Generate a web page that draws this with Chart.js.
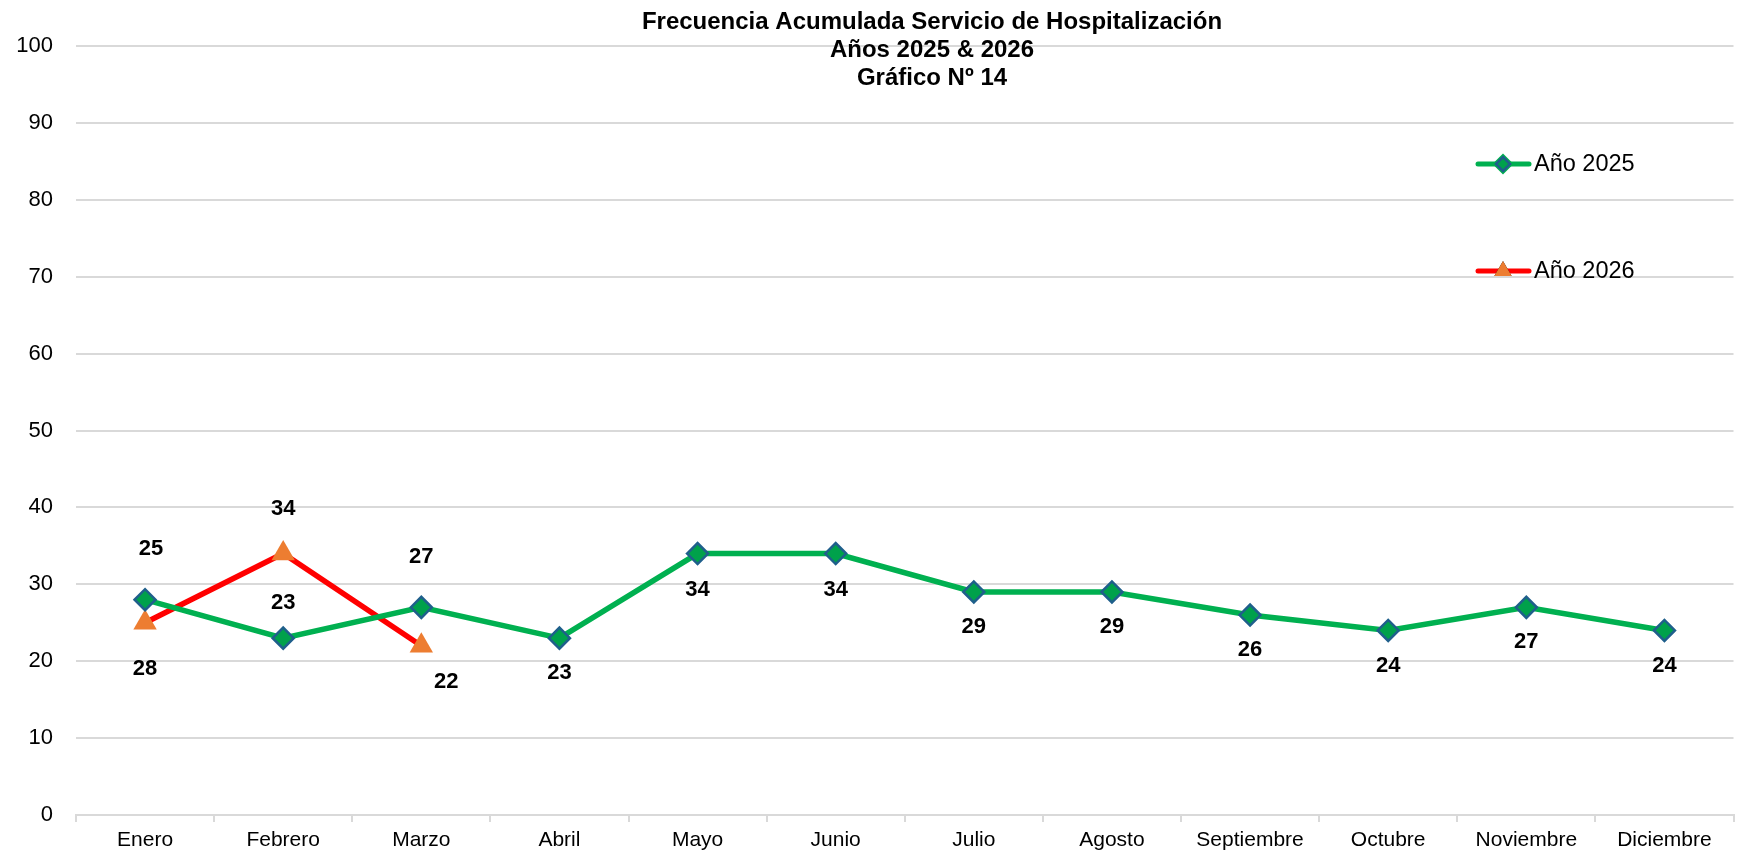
<!DOCTYPE html>
<html>
<head>
<meta charset="utf-8">
<title>Frecuencia Acumulada Servicio de Hospitalización</title>
<script src="https://cdn.jsdelivr.net/npm/chart.js@4/dist/chart.umd.min.js"></script>
<style>
  html, body { margin: 0; padding: 0; background: #fff; }
  #wrap { width: 1747px; height: 852px; }
</style>
</head>
<body>
<div id="wrap"><canvas id="chart" width="1747" height="852"></canvas></div>
<script>
const meses = ['Enero', 'Febrero', 'Marzo', 'Abril', 'Mayo', 'Junio', 'Julio',
  'Agosto', 'Septiembre', 'Octubre', 'Noviembre', 'Diciembre'];
const anio2025 = [28, 23, 27, 23, 34, 34, 29, 29, 26, 24, 27, 24];
const anio2026 = [25, 34, 22];
const tituloLineas = ['Frecuencia Acumulada Servicio de Hospitalización', 'Años 2025 & 2026', 'Gráfico Nº 14'];

const FONT = '"Liberation Sans", Arial, sans-serif';

// label offsets (px) from each point, like the Excel labels
const offs2025 = [[0, 69], [0, -35], [0, -50], [0, 35], [0, 36], [0, 36], [0, 35], [0, 35], [0, 35], [0, 35], [0, 35], [0, 35]];
const offs2026 = [[6, -74], [0, -45], [25, 36]];

const extras = {
  id: 'extras',
  afterDatasetsDraw(chart) {
    const ctx = chart.ctx;
    ctx.save();
    // data labels
    ctx.font = 'bold 22px ' + FONT;
    ctx.fillStyle = '#000';
    ctx.textAlign = 'center';
    ctx.textBaseline = 'middle';
    [offs2025, offs2026].forEach((offs, di) => {
      chart.getDatasetMeta(di).data.forEach((pt, i) => {
        const v = chart.data.datasets[di].data[i];
        ctx.fillText(String(v), pt.x + offs[i][0], pt.y + offs[i][1]);
      });
    });

    // title
    ctx.font = 'bold 24px ' + FONT;
    ctx.textBaseline = 'alphabetic';
    tituloLineas.forEach((t, i) => ctx.fillText(t, 932, 29 + i * 28));

    // legend
    const ys = [164, 271];
    chart.data.datasets.forEach((ds, i) => {
      const y = ys[i];
      ctx.strokeStyle = ds.borderColor;
      ctx.lineWidth = 5;
      ctx.lineCap = 'round';
      ctx.beginPath();
      ctx.moveTo(1478, y);
      ctx.lineTo(1529, y);
      ctx.stroke();
      Chart.helpers.drawPoint(ctx, {
        pointStyle: ds.pointStyle,
        radius: ds.pointStyle === 'triangle' ? 10 : 7,
        borderWidth: ds.pointBorderWidth
      }, 1503, y);
      ctx.fillStyle = ds.pointBackgroundColor;
      ctx.strokeStyle = ds.pointBorderColor;
      ctx.lineWidth = ds.pointBorderWidth;
      ctx.fill();
      if (ds.pointBorderWidth) ctx.stroke();
      ctx.fillStyle = '#000';
      ctx.font = '23.5px ' + FONT;
      ctx.textAlign = 'left';
      ctx.textBaseline = 'middle';
      ctx.fillText(ds.label, 1534, y + 1);
    });
    ctx.restore();
  }
};

new Chart(document.getElementById('chart'), {
  type: 'line',
  data: {
    labels: meses,
    datasets: [
      {
        label: 'Año 2025',
        data: anio2025,
        borderColor: '#00b050',
        borderWidth: 5.5,
        pointStyle: 'rectRot',
        pointRadius: 10.5,
        pointBackgroundColor: '#00a14b',
        pointBorderColor: '#1f5f8b',
        pointBorderWidth: 2.5,
        tension: 0
      },
      {
        label: 'Año 2026',
        data: anio2026,
        borderColor: '#ff0000',
        borderWidth: 5.5,
        pointStyle: 'triangle',
        pointRadius: 13.5,
        pointBackgroundColor: '#ed7d31',
        pointBorderColor: '#ed7d31',
        pointBorderWidth: 0,
        tension: 0
      }
    ]
  },
  options: {
    responsive: false,
    animation: false,
    layout: { padding: { top: 46, left: 0, right: 0, bottom: 0 } },
    plugins: {
      legend: { display: false },
      title: { display: false },
      tooltip: { enabled: false }
    },
    scales: {
      x: {
        offset: true,
        grid: { display: true, drawOnChartArea: false, drawTicks: true, tickLength: 7, color: '#d9d9d9', lineWidth: 2, offset: true },
        border: { display: true, color: '#d9d9d9', width: 2 },
        ticks: { color: '#000', font: { family: FONT, size: 21 }, padding: 6, maxRotation: 0, autoSkip: false },
        afterFit(s) { s.height = 37; }
      },
      y: {
        min: 0,
        max: 100,
        ticks: { stepSize: 10, color: '#000', font: { family: FONT, size: 22 }, padding: 23 },
        grid: { color: '#d9d9d9', lineWidth: 2, drawTicks: false },
        border: { display: false },
        afterFit(s) { s.width = 76; }
      }
    }
  },
  plugins: [extras]
});
</script>
</body>
</html>
